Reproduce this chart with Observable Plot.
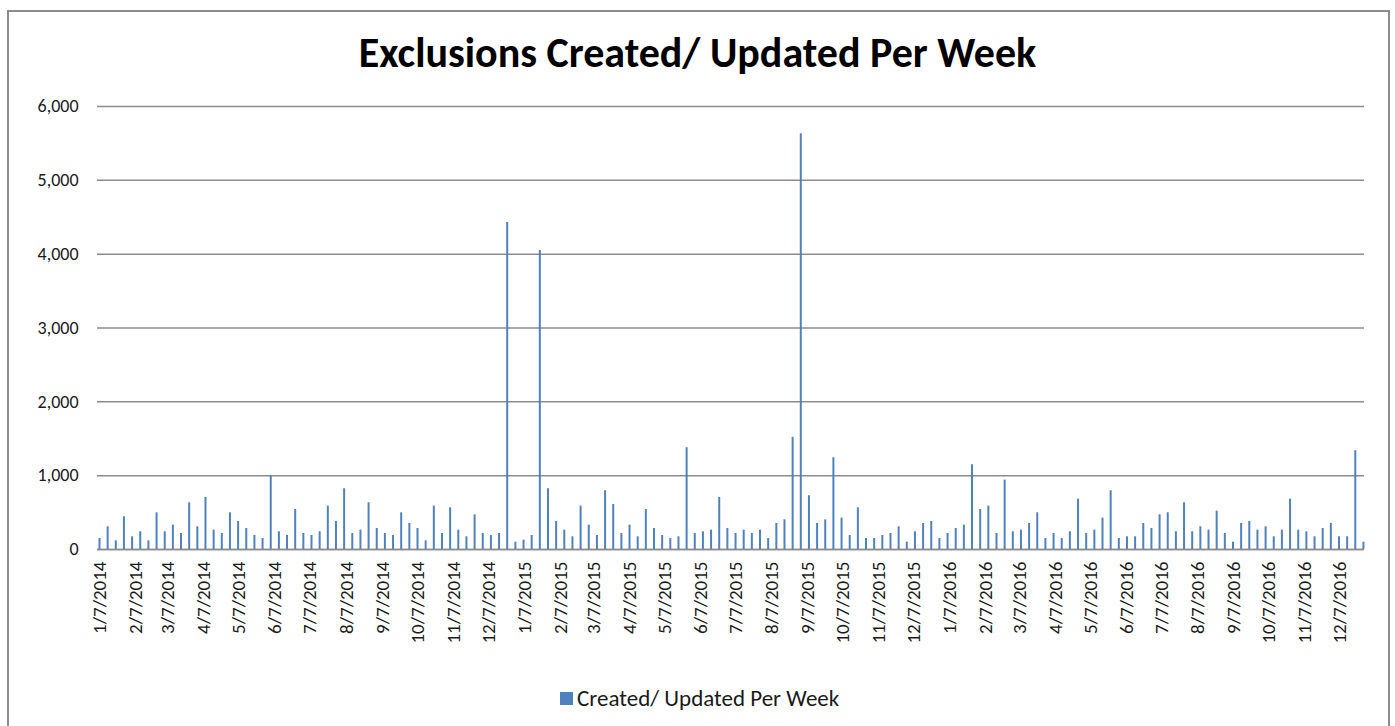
<!DOCTYPE html>
<html>
<head>
<meta charset="utf-8">
<script src="https://cdn.jsdelivr.net/npm/d3@7"></script>
<script src="https://cdn.jsdelivr.net/npm/@observablehq/plot@0.6"></script>
<style>
  html, body { margin: 0; padding: 0; background: #fff; }
  #wrap { position: relative; width: 1395px; height: 726px; overflow: hidden; font-family: Carlito, Lato, sans-serif; }
  #frame { position: absolute; left: 7px; top: 10px; width: 1383px; height: 740px; border: 2px solid #8c8c8c; box-sizing: border-box; }
  #title { position: absolute; left: 0; top: 27px; width: 1395px; text-align: center; font-weight: bold; font-size: 42px; line-height: 52px; color: #000; }
  #chart { position: absolute; left: 0; top: 80px; }
  #legend { position: absolute; left: 560px; top: 684px; font-size: 23px; line-height: 28px; color: #1a1a1a; display: flex; align-items: center; }
  #legend .sw { width: 13px; height: 13px; background: #4f81bd; margin-right: 4px; }
</style>
</head>
<body>
<div id="wrap">
  <div id="frame"></div>
  <div id="title">Exclusions Created/ Updated Per Week</div>
  <div id="chart"></div>
  <div id="legend"><div class="sw"></div><span>Created/ Updated Per Week</span></div>
</div>
<script>
// First week of the series
const firstWeek = "2014-01-07";
const seriesName = "Created/ Updated Per Week";
// Weekly values
const weeklyValues = [
  149,307,118,443,172,240,118,497,240,330,217,633,307,705,262,217,497,380,285,190,149,1000,240,190,542,217,190,240,588,380,823,217,262,633,285,217,190,497,353,285,118,
  588,217,565,262,172,470,217,190,217,4430,99,127,190,4050,823,380,262,172,588,330,190,796,610,217,330,172,542,285,190,149,172,1378,217,240,262,705,285,217,262,217,
  262,149,353,402,1519,5630,728,353,402,1243,425,190,565,149,149,190,217,307,99,240,353,380,149,217,285,330,1148,542,588,217,940,240,262,353,497,149,217,149,
  240,682,217,262,425,796,149,172,172,353,285,470,497,240,633,240,307,262,520,217,99,353,380,262,307,172,262,682,262,240,172,285,353,172,172,1338,99
];
// Axis tick labels (7th of each month)
const tickYears = [2014, 2015, 2016];
const tickMonths = [1,2,3,4,5,6,7,8,9,10,11,12];
const yTicks = [0, 1000, 2000, 3000, 4000, 5000, 6000];

const start = new Date(firstWeek + "T00:00:00Z");
const data = weeklyValues.map((v, i) => ({date: new Date(start.getTime() + i * 7 * 86400000), value: v}));
const tickDates = [];
for (const y of tickYears) for (const m of tickMonths) tickDates.push(new Date(Date.UTC(y, m - 1, 7)));
const fmt = d => `${d.getUTCMonth() + 1}/${d.getUTCDate()}/${d.getUTCFullYear()}`;

const lastDate = data[data.length - 1].date;
const domain = [new Date(start.getTime() - 1.7 * 86400000), new Date(lastDate.getTime() + 0.9 * 86400000)];

const chart = Plot.plot({
  width: 1395,
  height: 580,
  marginLeft: 97,
  marginRight: 31,
  marginTop: 26,
  marginBottom: 111,
  style: {fontFamily: "Carlito, Lato, sans-serif", fontSize: "19px", color: "#1a1a1a", background: "transparent"},
  x: {type: "utc", domain, label: null},
  y: {domain: [0, 6000], label: null},
  marks: [
    Plot.gridY(yTicks, {stroke: "#8c8c8c", strokeOpacity: 1, strokeWidth: 1.5}),
    Plot.ruleX(data, {x: "date", y: "value", stroke: "#4f81bd", strokeWidth: 2}),
    Plot.ruleY([0], {stroke: "#8c8c8c", strokeWidth: 1.5}),
    Plot.axisY(yTicks, {tickSize: 0, tickPadding: 19, tickFormat: d3.format(","), fontSize: 18}),
    Plot.axisX(tickDates, {tickSize: 0, tickPadding: 12, tickRotate: -90, tickFormat: fmt, fontSize: 19})
  ]
});
document.getElementById("chart").appendChild(chart);
</script>
</body>
</html>
